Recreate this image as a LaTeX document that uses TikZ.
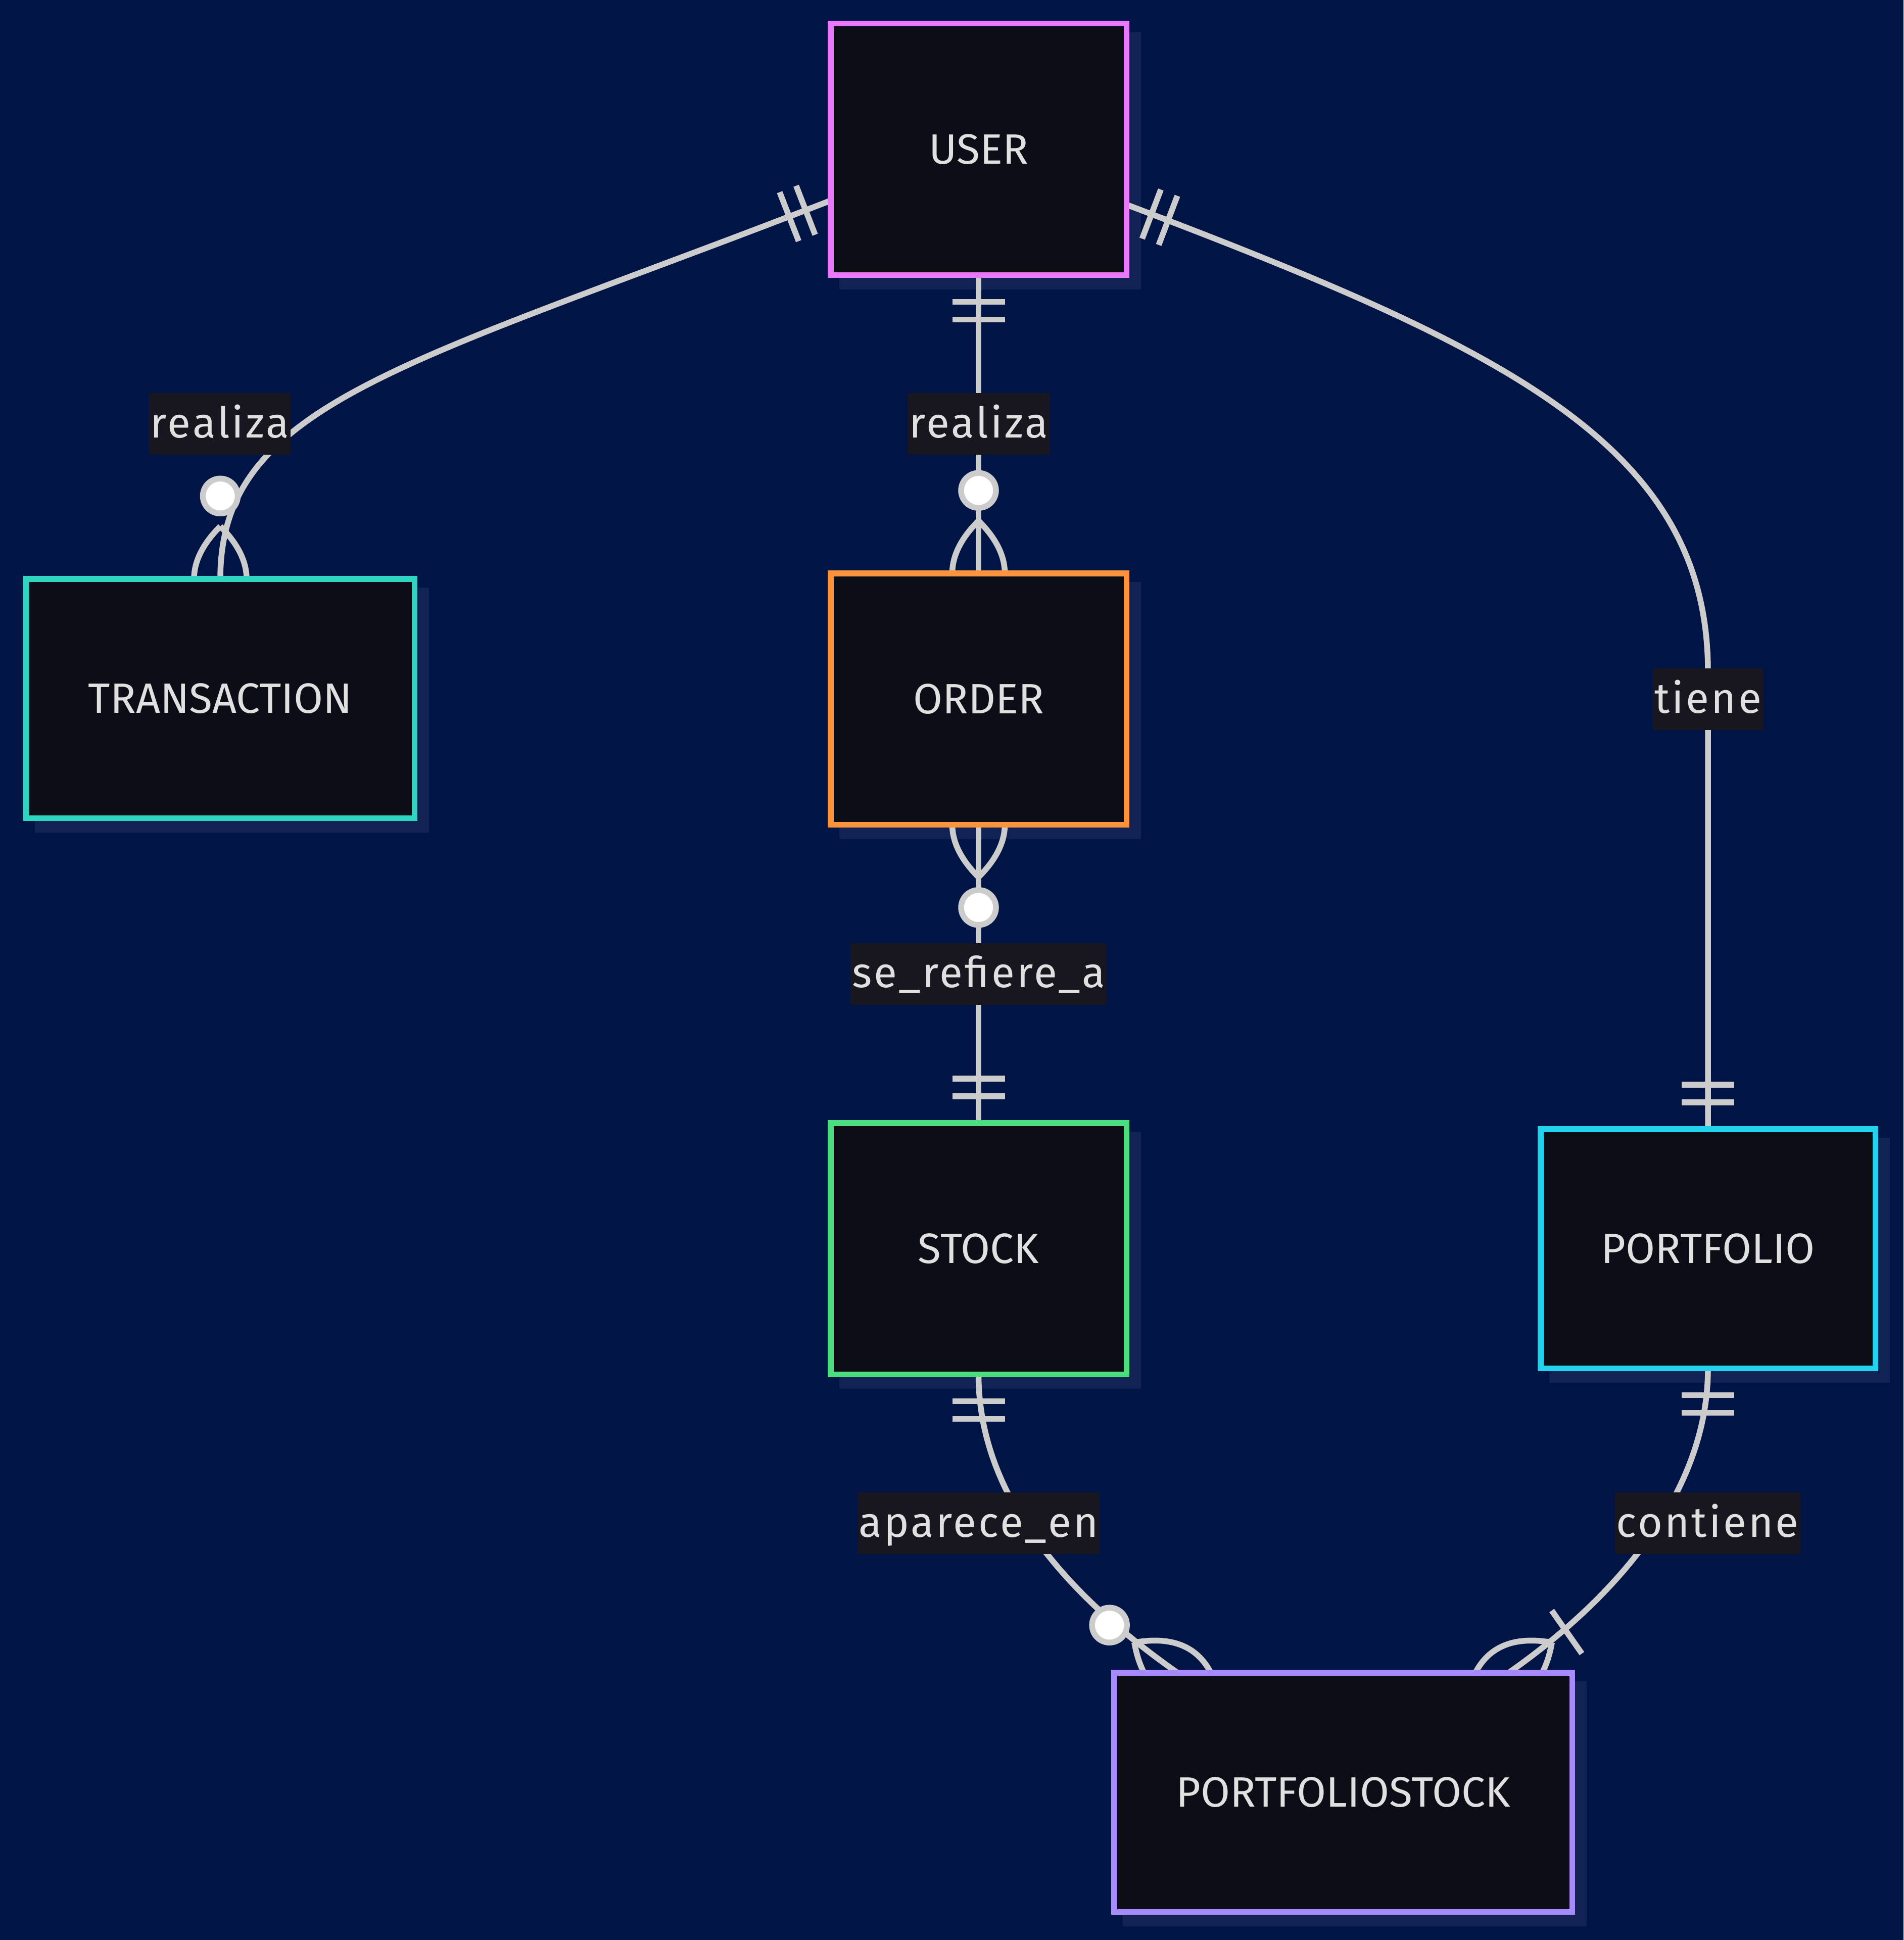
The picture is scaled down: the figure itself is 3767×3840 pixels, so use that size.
\documentclass[tikz,border=0pt]{standalone}
\usepackage{fontspec}
\setmainfont{Fira Sans}
\newfontfamily\edgefamily[LetterSpace=5]{Fira Sans}
\usetikzlibrary{calc}

\definecolor{pagebg}{RGB}{0,20,70}
\definecolor{shadowc}{RGB}{16,35,84}
\definecolor{boxfill}{RGB}{12,13,23}
\definecolor{lblfill}{RGB}{24,23,32}
\definecolor{linec}{RGB}{204,204,204}
\definecolor{txtc}{RGB}{224,224,224}
\definecolor{cUser}{RGB}{232,121,249}
\definecolor{cTrans}{RGB}{45,212,191}
\definecolor{cOrder}{RGB}{251,146,60}
\definecolor{cStock}{RGB}{74,222,128}
\definecolor{cPort}{RGB}{34,211,238}
\definecolor{cPS}{RGB}{167,139,250}

\pgfdeclarelayer{ground}
\pgfdeclarelayer{shade}
\pgfdeclarelayer{links}
\pgfsetlayers{ground,shade,links,main}

\newcommand\entfont{\fontsize{84pt}{100pt}\selectfont}
\newcommand\lblfont{\edgefamily\fontsize{84pt}{100pt}\selectfont}
% the two curved prongs of a crow's foot, apex 104 before the border
\newcommand\crowprongs{%
  \draw[conn] (-104,0) .. controls (-34.7,69.3) and (34.7,69.3) .. (104,0);
  \draw[conn] (-104,0) .. controls (-34.7,-69.3) and (34.7,-69.3) .. (104,0);}

\tikzset{
  entity/.style={draw, fill=boxfill, line width=11.5pt, inner sep=0pt, outer sep=0pt,
    text=txtc, font=\entfont, text height=58pt, text depth=0pt},
  lbl/.style={fill=lblfill, text=txtc, font=\lblfont, inner xsep=3pt, inner ysep=0pt,
    text height=88pt, text depth=34pt},
  conn/.style={draw=linec, line width=11.5pt},
  % cardinality marks, drawn with the entity border at the origin and +x pointing into the entity
  pics/onlyone/.style={code={
    \draw[conn] (-53,-52) -- (-53,52);
    \draw[conn] (-88,-52) -- (-88,52);
  }},
  pics/zeromany/.style={code={
    \crowprongs
    \draw[conn, fill=white] (-164,0) circle[radius=34.5pt];
  }},
  pics/onemany/.style={code={
    \crowprongs
    \draw[conn] (-140,-52) -- (-140,52);
  }},
}

\begin{document}
\begin{tikzpicture}[x=1pt,y=-1pt]
\useasboundingbox (0,0) rectangle (3767,3840);
\begin{pgfonlayer}{ground}
  \fill[pagebg] (0,0) rectangle (3767,3840);
\end{pgfonlayer}

% entities
\node[entity, draw=cUser,  minimum width=585.5pt, minimum height=497.5pt] (user)   at (1936.5,295.5)  {USER};
\node[entity, draw=cTrans, minimum width=768.5pt, minimum height=473.5pt] (trans)  at (436,1382.5)    {TRANSACTION};
\node[entity, draw=cOrder, minimum width=585.5pt, minimum height=497.5pt] (order)  at (1936.5,1383.5) {ORDER};
\node[entity, draw=cStock, minimum width=585.5pt, minimum height=497.5pt] (stock)  at (1936.5,2471.5) {STOCK};
\node[entity, draw=cPort,  minimum width=662.5pt, minimum height=473.5pt] (port)   at (3380,2471.5)   {PORTFOLIO};
\node[entity, draw=cPS,    minimum width=906.5pt, minimum height=473.5pt] (pstock) at (2658,3547.5)   {PORTFOLIOSTOCK};

% drop shadows
\begin{pgfonlayer}{shade}
  \foreach \n in {user,trans,order,stock,port,pstock}
    \fill[shadowc] ($(\n.north west)+(17,17)$) rectangle ($(\n.south east)+(29,29)$);
\end{pgfonlayer}

% attachment points
\coordinate (uL) at ($(user.west)+(0,101.5)$);
\coordinate (uR) at ($(user.east)+(0,109.5)$);
\coordinate (bendT) at ($(port.north)+(0,-905)$);
\coordinate (psL) at ($(pstock.north)+(-328,0)$);
\coordinate (psR) at ($(pstock.north)+(328,0)$);

% relationships
\begin{pgfonlayer}{links}
  \draw[conn] (uL) .. controls +(-839,326) and +(0,-350) .. (trans.north);
  \draw[conn] (user.south) -- (order.north);
  \draw[conn] (uR) .. controls +(748,284) and +(0,-450) .. (bendT) -- (port.north);
  \draw[conn] (order.south) -- (stock.north);
  \draw[conn] (stock.south) .. controls +(0,250) and +(-205,-143.5) .. (psL);
  \draw[conn] (port.south) .. controls +(0,250) and +(205,-143.5) .. (psR);

  \pic[rotate=21.2]  at (uL)          {onlyone};
  \pic[rotate=-90]   at (trans.north) {zeromany};
  \pic[rotate=90]    at (user.south)  {onlyone};
  \pic[rotate=-90]   at (order.north) {zeromany};
  \pic[rotate=159.2] at (uR)          {onlyone};
  \pic[rotate=-90]   at (port.north)  {onlyone};
  \pic[rotate=90]    at (order.south) {zeromany};
  \pic[rotate=-90]   at (stock.north) {onlyone};
  \pic[rotate=90]    at (stock.south) {onlyone};
  \pic[rotate=-35]   at (psL)         {zeromany};
  \pic[rotate=90]    at (port.south)  {onlyone};
  \pic[rotate=-145]  at (psR)         {onemany};
\end{pgfonlayer}

% relationship labels
\node[lbl] (l1) at (435,839)       {realiza};
\node[lbl] (l2) at (1936.5,839)    {realiza};
\node[lbl] (l3) at (3380,1384)     {tiene};
\node[lbl] (l4) at (1936.5,1927.5) {se\_refiere\_a};
\node[lbl] (l5) at (1936.5,3015)   {aparece\_en};
\node[lbl] (l6) at (3379,3015)     {contiene};
\end{tikzpicture}
\end{document}
